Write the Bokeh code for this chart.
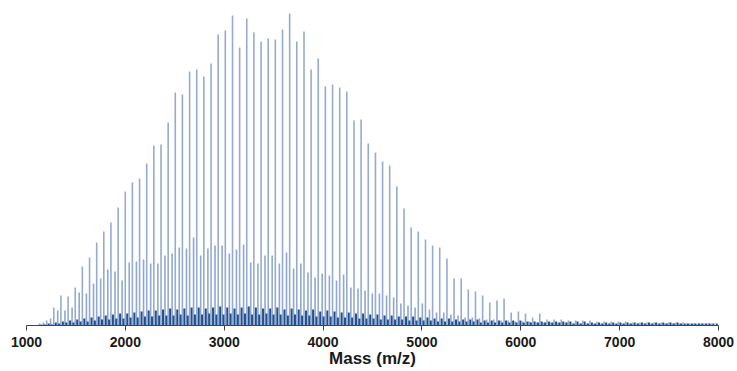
from bokeh.plotting import figure
from bokeh.models import ColumnDataSource, Range1d, FixedTicker
from bokeh.transform import dodge
from bokeh.embed import file_html
from bokeh.resources import INLINE

# Peak positions of the main oligomer series (m/z)
mass = [1131, 1204,
        1276, 1348, 1421, 1493, 1565, 1638, 1710, 1782, 1854, 1927,
        1999, 2071, 2144, 2216, 2288, 2361, 2433, 2505, 2577, 2650,
        2722, 2794, 2867, 2939, 3011, 3084, 3156, 3228, 3300, 3373,
        3445, 3517, 3590, 3662, 3734, 3807, 3879, 3951, 4023, 4096,
        4168, 4240, 4313, 4385, 4457, 4530, 4602, 4674, 4746, 4819,
        4891, 4963, 5036, 5108, 5180, 5253, 5325, 5397, 5469, 5542,
        5614, 5686, 5759, 5831, 5903, 5976, 6048, 6120, 6192, 6265,
        6337, 6409, 6482, 6554, 6626, 6699, 6771, 6843, 6915, 6988,
        7060, 7132, 7205, 7277, 7349, 7422, 7494, 7566, 7638, 7711,
        7783, 7855, 7928]

# Intensity of main series (a.u.)
main_int = [2, 5,
            18, 30, 29, 38, 59, 68, 83, 94, 103, 118,
            134, 143, 147, 162, 180, 181, 203, 233, 231, 254,
            256, 249, 262, 291, 295, 310, 278, 307, 293, 284,
            287, 286, 296, 312, 284, 294, 256, 267, 239, 241,
            238, 234, 205, 206, 182, 173, 164, 160, 139, 117,
            98, 94, 86, 80, 78, 67, 47, 47, 36, 34,
            30, 23, 25, 27, 13, 14, 12, 8, 12, 6,
            6, 6, 5, 5, 5, 5, 4, 4, 4, 4,
            4, 3, 3, 3, 3, 3, 3, 3, 3, 2,
            2, 2, 2]

# Secondary series (32 Da below each main peak)
second_int = [0, 3,
              7, 15, 15, 18, 33, 32, 42, 47, 56, 54,
              45, 63, 64, 66, 62, 62, 70, 72, 78, 77,
              88, 70, 77, 80, 80, 72, 76, 81, 63, 62,
              70, 70, 62, 73, 57, 62, 53, 48, 52, 50,
              45, 51, 38, 37, 35, 32, 32, 30, 28, 22,
              20, 18, 22, 16, 13, 13, 11, 10, 8, 8,
              7, 6, 6, 5, 5, 4, 4, 4, 3, 3,
              3, 3, 3, 2, 2, 2, 2, 2, 2, 2,
              2, 2, 2, 2, 2, 2, 2, 2, 2, 2,
              2, 2, 2]

# Minor series (20 Da above main peaks)
third_int = [1, 2,
             3, 4, 5, 6, 7, 8, 9, 10, 11, 12,
             12, 13, 14, 15, 15, 16, 17, 16, 17, 18,
             18, 17, 18, 19, 18, 17, 18, 19, 18, 17,
             17, 18, 16, 17, 16, 15, 16, 14, 15, 14,
             13, 13, 12, 12, 11, 11, 10, 10, 9, 9,
             9, 8, 8, 7, 7, 7, 6, 6, 6, 6,
             5, 5, 5, 5, 5, 5, 4, 4, 4, 4,
             4, 4, 4, 4, 4, 3, 3, 3, 3, 3,
             3, 3, 3, 3, 3, 3, 3, 3, 2, 2,
             2, 2, 2]

# Minor series (54 Da above main peaks)
fourth_int = [1, 1,
              2, 3, 3, 4, 4, 5, 6, 6, 7, 7,
              8, 8, 9, 9, 10, 10, 10, 11, 10, 11,
              11, 12, 11, 11, 12, 11, 12, 11, 11, 12,
              11, 11, 10, 11, 10, 10, 9, 9, 9, 8,
              8, 8, 7, 7, 7, 6, 6, 6, 6, 5,
              5, 5, 5, 4, 4, 4, 4, 4, 4, 3,
              3, 3, 3, 3, 3, 3, 3, 3, 3, 3,
              3, 3, 2, 2, 2, 2, 2, 2, 2, 2,
              2, 2, 2, 2, 2, 2, 2, 2, 2, 2,
              2, 2, 2]

x_ticks = [1000, 2000, 3000, 4000, 5000, 6000, 7000, 8000]
x_title = "Mass (m/z)"

src = ColumnDataSource(dict(mass=mass, main=main_int, second=second_int,
                            third=third_int, fourth=fourth_int))

p = figure(width=737, height=371, output_backend="svg", toolbar_location=None,
           x_range=Range1d(1000, 8000), y_range=Range1d(0, 320),
           y_axis_location=None, min_border_left=26, min_border_right=19,
           min_border_top=5, min_border_bottom=46)
p.outline_line_color = None
p.grid.visible = False
p.background_fill_color = "white"

xm = dodge("mass", 0, range=p.x_range)
x2 = dodge("mass", -32, range=p.x_range)
x3 = dodge("mass", 20, range=p.x_range)
x4 = dodge("mass", 54, range=p.x_range)

p.segment(x0=x2, y0=0, x1=x2, y1="second", source=src,
          line_color="#7b98c9", line_width=1.6, line_alpha=0.85)
p.segment(x0=xm, y0=0, x1=xm, y1="main", source=src,
          line_color="#8aa2ca", line_width=1.6, line_alpha=0.9)
p.segment(x0=x3, y0=0, x1=x3, y1="third", source=src,
          line_color="#22508f", line_width=2.0)
p.segment(x0=x4, y0=0, x1=x4, y1="fourth", source=src,
          line_color="#22508f", line_width=2.0)

ax = p.xaxis[0]
ax.ticker = FixedTicker(ticks=x_ticks)
ax.minor_tick_line_color = None
ax.major_tick_in = 0
ax.major_tick_out = 5
ax.axis_line_color = "#444444"
ax.major_tick_line_color = "#444444"
ax.major_label_text_font = "Liberation Sans"
ax.major_label_text_font_style = "bold"
ax.major_label_text_font_size = "14px"
ax.major_label_text_color = "#1a1a1a"
ax.major_label_standoff = 6
ax.axis_label = x_title
ax.axis_label_text_font = "Liberation Sans"
ax.axis_label_text_font_style = "bold"
ax.axis_label_text_font_size = "17px"
ax.axis_label_text_color = "#1a1a1a"
ax.axis_label_standoff = -1

open("out.html", "w").write(file_html(p, INLINE))
